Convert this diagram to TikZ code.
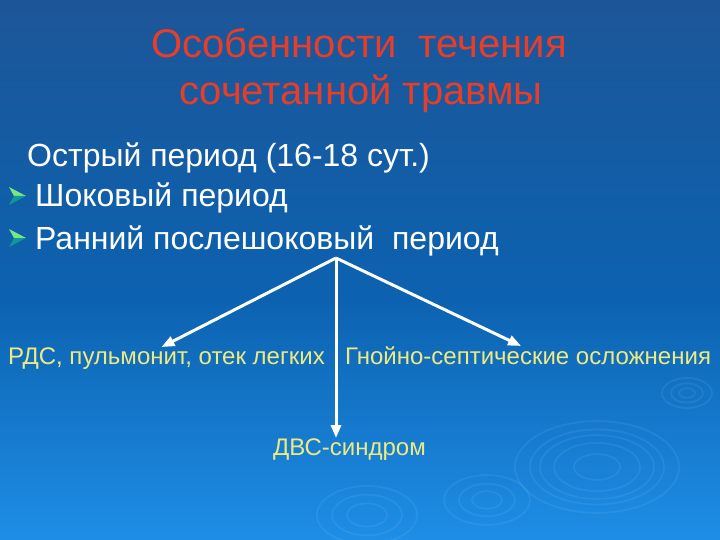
\documentclass[tikz,border=0pt]{standalone}
\usepackage{fontspec}
\setmainfont{Liberation Sans}
\usetikzlibrary{arrows.meta}
\definecolor{bgtop}{RGB}{28,86,152}
\definecolor{bgmid}{RGB}{12,98,176}
\definecolor{bgbot}{RGB}{30,142,230}
\definecolor{titlered}{RGB}{232,62,40}
\definecolor{labyellow}{RGB}{238,234,130}
\definecolor{bulgreen}{RGB}{120,230,130}
\definecolor{bulteal}{RGB}{20,150,150}
\definecolor{ripcol}{RGB}{150,210,255}
\tikzset{
  titletext/.style={inner sep=0pt, text=titlered, font=\fontsize{40}{48}\selectfont},
  bodytext/.style={inner sep=0pt, text=white, font=\fontsize{32}{38}\selectfont},
  labtext/.style={inner sep=0pt, text=labyellow, font=\fontsize{24}{29}\selectfont},
  conn/.style={draw=white, line width=3pt, -{Triangle[length=13pt,width=10pt]}},
  ripple/.style={draw=ripcol, opacity=0.11, line width=1.8pt},
  bul/.pic={
    \fill[bulgreen] (0,0) -- (-17,-9) -- (-12,0) -- cycle;
    \fill[bulteal] (0,0) -- (-17,9) -- (-12,0) -- cycle;
  }
}
\begin{document}
\begin{tikzpicture}[x=1pt,y=-1pt]
\useasboundingbox (0,0) rectangle (720,540);
\shade[top color=bgtop, bottom color=bgmid] (0,0) rectangle (720,300);
\shade[top color=bgmid, bottom color=bgbot] (0,299.5) rectangle (720,540);
% ripples
\foreach \r in {23,43,57,67,82} \draw[ripple] (597,467) ellipse ({\r} and {0.56*\r});
\foreach \r in {8,16,25} \draw[ripple] (687,393) ellipse ({\r} and {0.6*\r});
\foreach \r in {15,28,43} \draw[ripple] (487,500) ellipse ({\r} and {0.58*\r});
\foreach \r in {20,35,50} \draw[ripple] (367,515) ellipse ({\r} and {0.58*\r});
% title
\node[titletext, anchor=base] (t1) at (359,58) {Особенности~~течения};
\node[titletext, anchor=base] (t2) at (361,105) {сочетанной травмы};
% body
\node[bodytext, anchor=base west] (acute) at (27,167) {Острый период (16-18 сут.)};
\node[bodytext, anchor=base west] (shock) at (35,207) {Шоковый период};
\node[bodytext, anchor=base west] (early) at (35,249) {Ранний послешоковый~~период};
\pic at (26,196) {bul};
\pic at (26,238) {bul};
% labels
\node[labtext, anchor=base west] (rds) at (8,364) {РДС, пульмонит, отек легких};
\node[labtext, anchor=base west] (sept) at (345,364) {Гнойно-септические осложнения};
\node[labtext, anchor=base west] (dvs) at (273,455) {ДВС-синдром};
% connectors
\coordinate (src) at (336,258);
\draw[conn] (src) -- ([xshift=-5pt]rds.north);
\draw[conn] (src) -- ([xshift=-7pt]sept.north);
\draw[conn] (src) -- (src |- dvs.north);
\end{tikzpicture}
\end{document}
